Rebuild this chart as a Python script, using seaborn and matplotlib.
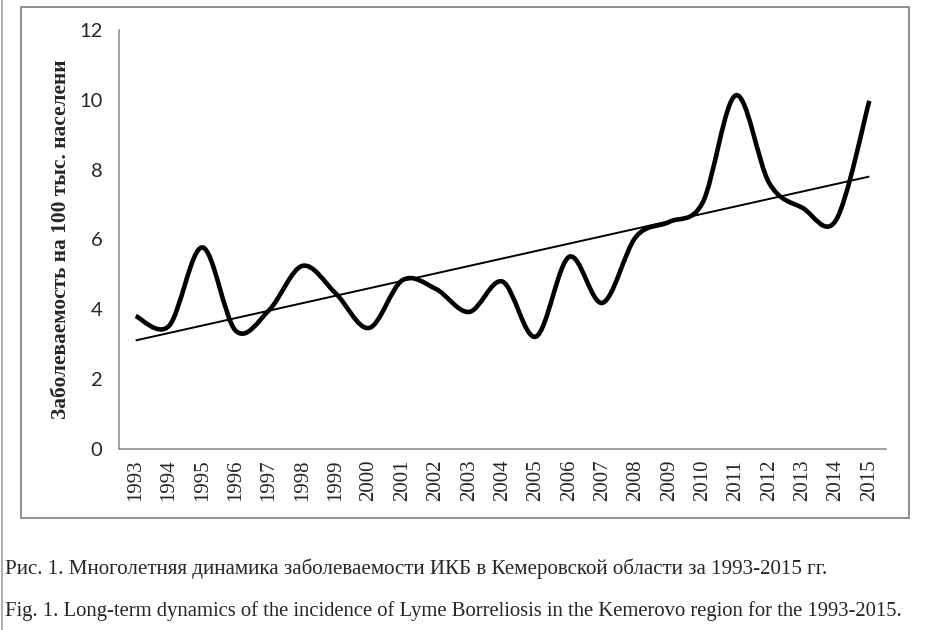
import numpy as np
import pandas as pd
import matplotlib
matplotlib.use("Agg")
import matplotlib.pyplot as plt
from matplotlib.path import Path
from matplotlib.patches import PathPatch, Rectangle
import seaborn as sns

years = [str(y) for y in range(1993, 2016)]
incidence = [3.8, 3.52, 5.77, 3.38, 3.97, 5.24, 4.45, 3.46, 4.83, 4.58, 3.92,
             4.79, 3.21, 5.5, 4.18, 6.07, 6.5, 7.05, 10.13, 7.61, 6.9, 6.55, 9.97]
y_ticks = [0, 2, 4, 6, 8, 10, 12]
y_label = "Заболеваемость на 100 тыс. населени"
caption_ru = "Рис. 1. Многолетняя динамика заболеваемости ИКБ в Кемеровской области за 1993-2015 гг."
caption_en = "Fig. 1. Long-term dynamics of the incidence of Lyme Borreliosis in the Kemerovo region for the 1993-2015."

df = pd.DataFrame({"idx": np.arange(len(years)), "val": incidence})

sns.set_style("white")
serif = ["Liberation Serif", "DejaVu Serif"]
gray = "#868686"

fig = plt.figure(figsize=(9.3, 6.3), dpi=100)
ax = fig.add_axes([119 / 930, 1 - 448.7 / 630, 767 / 930, 418.7 / 630])

# smoothed line like Excel (Catmull-Rom as cubic Bezier)
pts = df[["idx", "val"]].to_numpy(dtype=float)
verts = [tuple(pts[0])]
codes = [Path.MOVETO]
n = len(pts)
for i in range(n - 1):
    p0 = pts[max(i - 1, 0)]
    p1 = pts[i]
    p2 = pts[i + 1]
    p3 = pts[min(i + 2, n - 1)]
    c1 = p1 + (p2 - p0) / 6
    c2 = p2 - (p3 - p1) / 6
    verts += [tuple(c1), tuple(c2), tuple(p2)]
    codes += [Path.CURVE4] * 3
ax.add_patch(PathPatch(Path(verts, codes), fill=False, edgecolor="black",
                       lw=3.3, capstyle="butt", joinstyle="round", zorder=3))

# linear trend
sns.regplot(data=df, x="idx", y="val", scatter=False, ci=None, truncate=True,
            color="black", line_kws={"lw": 1.4, "solid_capstyle": "butt"}, ax=ax)

ax.set_xlim(-0.5, len(years) - 0.5)
ax.set_ylim(0, 12)
ax.set_yticks(y_ticks)
ax.set_yticklabels([str(t) for t in y_ticks], fontfamily="Lato", fontsize=14.5)
ax.set_xticks(df["idx"])
ax.set_xticklabels(years, rotation=90, fontfamily=serif, fontsize=15)
ax.set_xticks(np.arange(-0.5, len(years)), minor=True)
ax.tick_params(axis="x", which="major", length=0, pad=8)
ax.tick_params(axis="x", which="minor", length=6, width=1.1, color=gray, direction="out")
ax.tick_params(axis="y", length=6, width=1.1, color=gray, direction="out", pad=6)

for s in ["top", "right"]:
    ax.spines[s].set_visible(False)
for s in ["left", "bottom"]:
    ax.spines[s].set_color(gray)
    ax.spines[s].set_linewidth(1.1)

ax.set_xlabel("")
ax.set_ylabel(y_label, fontfamily=serif, fontweight="bold", fontsize=15.4)
ax.yaxis.set_label_coords(-0.063, 0.5)

# chart frame and page edge
fig.patches.append(Rectangle((21 / 930, 1 - 518 / 630), 888 / 930, 511 / 630,
                             transform=fig.transFigure, fill=False,
                             edgecolor=gray, lw=1.3))
fig.add_artist(plt.Line2D([1.5 / 930, 1.5 / 930], [0, 1], transform=fig.transFigure,
                          color="#a0a0a0", lw=1.2))

fig.text(5 / 930, 1 - 569 / 630, caption_ru, fontfamily=serif, fontsize=15.1, va="center")
fig.text(5 / 930, 1 - 611 / 630, caption_en, fontfamily=serif, fontsize=14.9, va="center")

fig.savefig("out.png", dpi=100)
